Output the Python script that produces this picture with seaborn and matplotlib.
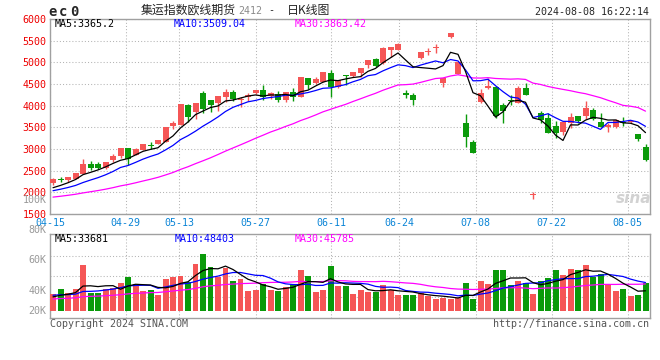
import numpy as np
import pandas as pd
import matplotlib
matplotlib.use('Agg')
import matplotlib.pyplot as plt
import seaborn as sns
from matplotlib.transforms import ScaledTranslation

# ============================================================
# Data (EC2412 daily, 04-15 .. 08-08)
# ============================================================
OPEN = [2216, 2300, 2280, 2310, 2430, 2655, 2650, 2560, 2755, 2845,
        3015, 2865, 2980, 3085, 3110, 3170, 3525, 3555, 4010, 3865,
        4295, 4130, 4065, 4210, 4315, 4140, 4210, 4300, 4360, 4225,
        4270, 4135, 4325, 4210, 4640, 4520, 4555, 4760, 4440, 4710,
        4695, 4765, 4940, 5070, 4975, 5290, 5290, 4300, 4245, 5110,
        5235, 5335, 4530, 5580, 4735, 3595, 3155, 4095, 4420, 4440,
        4015, 4130, 4070, 4400, 1930, 3825, 3710, 3530, 3400, 3595,
        3765, 3765, 3900, 3630, 3520, 3500, 3615, 3620, 3345, 3040]
HIGH = [2320, 2354, 2360, 2445, 2770, 2720, 2690, 2705, 2885, 3020,
        3020, 3020, 3120, 3155, 3210, 3520, 3655, 4045, 4040, 4065,
        4340, 4135, 4225, 4385, 4365, 4210, 4285, 4365, 4480, 4310,
        4345, 4325, 4410, 4660, 4645, 4660, 4775, 4825, 4600, 4715,
        4790, 4875, 5060, 5110, 5355, 5350, 5440, 4365, 4300, 5250,
        5330, 5425, 4640, 5675, 5020, 3810, 3210, 4380, 4635, 4450,
        4055, 4245, 4455, 4520, 2015, 3885, 3840, 3655, 3635, 3840,
        3770, 4110, 3940, 3840, 3610, 3690, 3730, 3670, 3350, 3115]
LOW = [2170, 2232, 2232, 2300, 2420, 2516, 2530, 2540, 2700, 2790,
       2620, 2860, 2975, 3000, 3105, 3165, 3455, 3550, 3630, 3690,
       3840, 3860, 3880, 4095, 4115, 3965, 4110, 4280, 4130, 4160,
       4095, 4095, 4115, 4190, 4395, 4510, 4550, 4210, 4420, 4480,
       4660, 4655, 4880, 4900, 4960, 5130, 5280, 4170, 4015, 5070,
       5170, 5210, 4440, 5560, 4730, 3055, 2900, 4055, 4380, 3710,
       3595, 4015, 4060, 4240, 1845, 3610, 3370, 3250, 3325, 3480,
       3595, 3685, 3680, 3510, 3400, 3480, 3530, 3590, 3190, 2725]
CLOSE = [2308, 2285, 2355, 2440, 2655, 2570, 2570, 2700, 2845, 3015,
         2765, 2995, 3115, 3070, 3205, 3515, 3610, 4040, 3750, 4060,
         3925, 4015, 4225, 4325, 4165, 4155, 4245, 4355, 4195, 4300,
         4135, 4325, 4195, 4655, 4485, 4615, 4770, 4440, 4585, 4675,
         4785, 4870, 5055, 4920, 5340, 5345, 5430, 4250, 4135, 5245,
         5270, 5345, 4635, 5670, 5015, 3285, 2900, 4285, 4460, 3765,
         3885, 4105, 4400, 4250, 1945, 3670, 3380, 3365, 3630, 3745,
         3655, 3940, 3690, 3515, 3545, 3670, 3600, 3650, 3225, 2750]
VOLUME = [28400, 37400, 30600, 37400, 78200, 30600, 30600, 37400, 38600, 47600,
          57800, 45900, 34000, 35700, 27200, 54400, 57800, 59500, 49800, 79900,
          96900, 74800, 57300, 72600, 51000, 54900, 34000, 35700, 45400, 35700,
          34000, 41300, 45400, 70200, 59500, 32800, 35700, 76500, 42500, 42500,
          28900, 35700, 32300, 32300, 44200, 35700, 27200, 27200, 27200, 30600,
          25500, 20400, 22100, 20400, 22100, 47600, 20400, 51000, 45900, 69700,
          69700, 44200, 51000, 47600, 28900, 51000, 56100, 69700, 61200, 71400,
          69700, 78200, 57800, 62900, 44200, 34000, 37400, 25500, 27200, 47600]

# sessions before 04-15 (not drawn, only feed the moving averages; estimated)
PRE_CLOSE = [1690, 1700, 1715, 1730, 1745, 1750, 1765, 1780, 1790, 1810,
             1830, 1850, 1860, 1870, 1880, 1890, 1900, 1910, 1920, 1935,
             1945, 1955, 1970, 1980, 1995, 2020, 2045, 2070, 2092]
PRE_VOLUME = [15000, 16000, 14500, 17000, 16500, 18000, 15500, 17500, 19000, 16000,
              18500, 17000, 16000, 19500, 18000, 17500, 20000, 18500, 17000, 18000,
              26000, 31000, 28500, 33000, 28500, 24000, 21500, 23500, 22600]

DATE_LABELS = ['04-15', '04-29', '05-13', '05-27', '06-11', '06-24', '07-08', '07-22', '08-05']
PRICE_TICKS = [1500, 2000, 2500, 3000, 3500, 4000, 4500, 5000, 5500, 6000]
VOL_LABELS = ['100K', '80K', '60K', '40K', '20K']
MA_PRICE_TEXT = ['MA5:3365.2', 'MA10:3509.04', 'MA30:3863.42']
MA_VOL_TEXT = ['MA5:33681', 'MA10:48403', 'MA30:45785']

# ============================================================
# Layout (pixels in a 660x360 canvas)
# ============================================================
W, H = 660, 360
STEP = 7.5          # px per session
X0 = 53             # px of first session
DATE_PX = [50, 125.5, 179.3, 255.8, 331.3, 399.3, 475.7, 551.7, 627.5]
VOL_LABEL_Y = [200, 230, 260, 290.7, 311]
VOL_PER_PX = 1700

RED = '#F55656'
GREEN = '#0A9A0A'
BLUE = '#0000FF'
MAGENTA = '#FF00FF'
GRIDC = '#b4b4b4'
FRAME = '#a0a0a0'
MONO = 'DejaVu Sans Mono'
CJK = 'Noto Sans CJK SC'

sns.set_theme(style='white')
plt.rcParams['font.family'] = [MONO, CJK]


def rect(l, t, r, b):
    return [l / W, 1 - b / H, (r - l) / W, (b - t) / H]


def fx(px):
    return (px - X0) / STEP


def ftext(x, y, s, **kw):
    kw.setdefault('fontsize', 7.2)
    kw.setdefault('va', 'center')
    fig.text(x / W, 1 - y / H, s, **kw)


df = pd.DataFrame({'open': OPEN, 'high': HIGH, 'low': LOW, 'close': CLOSE, 'volume': VOLUME})
df['idx'] = np.arange(len(df))
df['dir'] = np.where(df['close'] >= df['open'], 'up', 'down')
n_pre = len(PRE_CLOSE)
all_close = pd.Series(PRE_CLOSE + CLOSE)
all_vol = pd.Series(PRE_VOLUME + VOLUME)
for n in (5, 10, 30):
    df[f'ma{n}'] = all_close.rolling(n).mean().iloc[n_pre:].values
    df[f'vma{n}'] = all_vol.rolling(n).mean().iloc[n_pre:].values

fig = plt.figure(figsize=(W / 100, H / 100), dpi=100)
fig.patch.set_facecolor('white')

xlim = (fx(50), fx(650))
xt = [fx(p) for p in DATE_PX]

# ---------------- price panel ----------------
ax = fig.add_axes(rect(50, 19.1, 650, 214))
ax.set_xlim(*xlim)
ax.set_ylim(1500, 6000)
colors = df['dir'].map({'up': RED, 'down': GREEN})
ax.vlines(df['idx'], df['low'], df['high'], colors=colors, lw=1, zorder=3)
body_lo = df[['open', 'close']].min(axis=1)
body_h = (df['close'] - df['open']).abs().clip(lower=24)
ax.bar(df['idx'], body_h, bottom=body_lo, width=0.8, color=colors, lw=0, zorder=3)
sns.lineplot(x=df['idx'], y=df['ma30'], ax=ax, color=MAGENTA, lw=0.9, zorder=4)
sns.lineplot(x=df['idx'], y=df['ma10'], ax=ax, color=BLUE, lw=0.9, zorder=4)
sns.lineplot(x=df['idx'], y=df['ma5'], ax=ax, color='black', lw=0.9, zorder=5)

ax.set_yticks(PRICE_TICKS)
ax.set_yticklabels([str(v) for v in PRICE_TICKS], color='#EE0000', fontsize=7.2, family=MONO)
for lab in ax.get_yticklabels():
    lab.set_transform(lab.get_transform() + ScaledTranslation(0, 2.5 / 100, fig.dpi_scale_trans))
ax.set_xticks(xt)
ax.set_xticklabels(DATE_LABELS, color='#0A84D6', fontsize=7.2, family=MONO)
ax.tick_params(length=0, pad=2.6)
ax.set_xlabel('')
ax.set_ylabel('')

# ---------------- volume panel ----------------
av = fig.add_axes(rect(50, 234.3, 650, 318.3))
sns.barplot(x=df['idx'], y=df['volume'], hue=df['dir'], palette={'up': RED, 'down': GREEN},
            native_scale=True, dodge=False, width=0.8, saturation=1, linewidth=0,
            legend=False, ax=av, zorder=3)
sns.lineplot(x=df['idx'], y=df['vma30'], ax=av, color=MAGENTA, lw=0.9, zorder=4)
sns.lineplot(x=df['idx'], y=df['vma10'], ax=av, color=BLUE, lw=0.9, zorder=4)
sns.lineplot(x=df['idx'], y=df['vma5'], ax=av, color='black', lw=0.9, zorder=5)
av.set_xlim(*xlim)
av.set_ylim((311 - 318.3) * VOL_PER_PX, (311 - 234.3) * VOL_PER_PX)
av.set_yticks([(311 - y) * VOL_PER_PX for y in (255.5, 276.3, 297.2)])
av.set_xticks(xt)
av.set_xticklabels([])
av.set_yticklabels([])
av.tick_params(length=0)
av.set_xlabel('')
av.set_ylabel('')

for a in (ax, av):
    a.set_facecolor('white')
    a.set_axisbelow(True)
    a.grid(True, color=GRIDC, lw=0.75, linestyle=(0, (1, 2)))
    for s in a.spines.values():
        s.set_color(FRAME)
        s.set_linewidth(1)

# ---------------- texts ----------------
ftext(48, 12, 'e', fontsize=10, fontweight='bold', family=MONO)
ftext(59, 12, 'c', fontsize=10, fontweight='bold', family=MONO)
ftext(70, 12, '0', fontsize=10, fontweight='bold', family=MONO)
ftext(141, 10.5, '集运指数欧线期货', fontsize=8.6, family=[CJK, 'DejaVu Sans'])
ftext(238, 11.5, '2412', color='#8a8a8a', family=MONO)
ftext(268, 10.5, '-', family=MONO)
ftext(287, 10.5, '日K线图', fontsize=8.6, family=[CJK, 'DejaVu Sans'])
ftext(649, 12.3, '2024-08-08 16:22:14', ha='right', family=MONO)

for s, x, c in zip(MA_PRICE_TEXT, (54.3, 174, 295), ('black', BLUE, MAGENTA)):
    ftext(x, 24.3, s, color=c, family=MONO)
for s, x, c in zip(MA_VOL_TEXT, (54.3, 175, 295), ('black', BLUE, MAGENTA)):
    ftext(x, 239.3, s, color=c, family=MONO)
for s, y in zip(VOL_LABELS, VOL_LABEL_Y):
    ftext(46.7, y, s, ha='right', color='#999999', family=MONO)

ftext(50, 323.7, 'Copyright 2024 SINA.COM', color='#555555', family=MONO)
ftext(649.5, 323.7, 'http://finance.sina.com.cn', ha='right', color='#555555', family=MONO)
ftext(634, 198, 'sina', ha='center', color='#d2d2d2', fontsize=11, fontweight='bold',
      style='italic', family='DejaVu Sans')

fig.savefig('out.png', dpi=100, facecolor='white')
